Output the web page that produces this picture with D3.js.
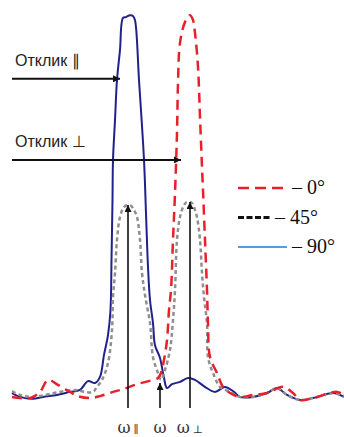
<!DOCTYPE html>
<html lang="ru">
<head>
<meta charset="UTF-8">
<title>Отклик</title>
<script src="https://d3js.org/d3.v7.min.js"></script>
<style>
  body { margin: 0; background: #fff; }
  svg { display: block; }
  .lbl { font-family: "Liberation Sans", Arial, sans-serif; font-size: 16px; fill: #222; }
  .omega { font-family: "DejaVu Serif", serif; font-size: 16px; fill: #333; }
  .leg { font-family: "Liberation Serif", "Times New Roman", serif; font-size: 20px; fill: #111; }
</style>
</head>
<body>
<svg width="344" height="437"></svg>
<script>
const width = 344, height = 437;

// отклик при 0° (красная штриховая)
const resp0 = [
  [0,0.8],[8,0.5],[18,0.5],[28,2.1],[36,5.2],[46,3.9],[58,2.1],[66,1.0],[78,0.5],[88,1.0],
  [101,2.1],[111,2.8],[125,4.1],[141,5.2],[146,5.7],[149,7.0],[152,10.4],[155,15.5],[157,23.3],
  [159,28.5],[161,41.5],[163,53.6],[165,69.2],[166,82.1],[168,92.5],[173,97.9],[178,99.7],
  [181,98.4],[183,95.1],[186,86.3],[188,73.3],[190,60.4],[191,54.4],[193,41.5],[195,28.5],
  [196,19.9],[198,11.1],[205,7.0],[211,3.4],[218,1.8],[228,0.8],[241,1.3],[255,1.8],[271,3.4],
  [281,1.8],[288,0],[301,0.5],[325,2.1],[332,1.3]
];

// отклик при 45° (серая пунктирная)
const resp45 = [
  [0,2.3],[8,1.3],[18,0.8],[33,1.3],[48,2.1],[63,2.6],[73,2.1],[81,2.1],[85,3.4],[90,5.2],
  [96,9.6],[100,18.1],[101,26.7],[103,32.9],[105,41.5],[108,47.4],[112,50.0],[116,50.5],
  [119,50.3],[122,49.2],[125,47.4],[128,41.5],[130,32.9],[133,27.2],[138,19.9],[141,11.1],
  [146,7.0],[149,5.2],[153,7.8],[158,13.0],[161,20.7],[163,28.5],[165,41.5],[168,47.4],
  [172,50.5],[175,51.3],[180,51.0],[183,49.2],[185,47.4],[188,41.5],[190,32.9],[192,26.7],
  [195,19.9],[196,11.1],[201,7.0],[208,3.4],[216,2.3],[228,0.8],[241,0.8],[255,1.8],
  [265,3.1],[275,1.3],[288,0],[301,0.5],[321,1.8],[332,1.0]
];

// отклик при 90° (синяя сплошная)
const resp90 = [
  [0,1.8],[8,0.8],[21,0.3],[31,0.8],[45,1.3],[58,2.1],[68,2.6],[76,4.9],[83,4.4],[88,6.0],
  [92,11.7],[96,16.8],[98.5,23.3],[99.5,36.3],[100.5,51.8],[101,62.2],[103,72.5],[105,82.9],
  [108,90.7],[111,99.0],[114,99.2],[118,99.7],[121,99.5],[123,98.4],[127,82.9],[132,62.2],
  [134,48.4],[136,34.5],[138,25.9],[141,19.9],[143,14.2],[148,10.9],[152,5.7],[155,3.1],
  [160,4.1],[168,4.7],[176,5.7],[183,5.2],[193,3.4],[203,2.1],[213,3.4],[222,2.1],[228,0.8],
  [241,0.8],[255,1.8],[265,3.1],[275,1.3],[288,0],[301,0.5],[321,1.8],[332,0.8]
];

// частоты и уровни отклика для стрелок
const omegaNames = ["ω", "ω", "ω"];
const omegaSubs = ["∥", "", "⊥"];
const omegaFreq = [116, 148, 178];
const omegaTop = [50.5, 4.4, 51.3];
const responseLabels = ["Отклик ∥", "Отклик ⊥"];
const responseLevel = [83.2, 62.2];
const responseEnd = [108, 169];
const legendLabels = ["– 0°", "– 45°", "– 90°"];

const x = d3.scaleLinear().domain([0, 332]).range([12, 344]);
const y = d3.scaleLinear().domain([0, 100]).range([400, 14]);

const svg = d3.select("svg");

const defs = svg.append("defs");
defs.append("marker")
  .attr("id", "head")
  .attr("viewBox", "0 0 10 10")
  .attr("refX", 10).attr("refY", 5)
  .attr("markerUnits", "userSpaceOnUse")
  .attr("markerWidth", 10).attr("markerHeight", 7)
  .attr("orient", "auto")
  .append("path").attr("d", "M0,0 L10,5 L0,10 z").attr("fill", "#111");

const line = d3.line()
  .x(d => x(d[0]))
  .y(d => y(d[1]))
  .curve(d3.curveCatmullRom.alpha(0.5));

svg.append("path").datum(resp90)
  .attr("d", line).attr("fill", "none")
  .attr("stroke", "#21218c").attr("stroke-width", 2);

svg.append("path").datum(resp45)
  .attr("d", line).attr("fill", "none")
  .attr("stroke", "#8f8f8f").attr("stroke-width", 2.5)
  .attr("stroke-dasharray", "4,3");

svg.append("path").datum(resp0)
  .attr("d", line).attr("fill", "none")
  .attr("stroke", "#e8202a").attr("stroke-width", 2.5)
  .attr("stroke-dasharray", "10,6");

// горизонтальные стрелки
responseLabels.forEach((t, i) => {
  svg.append("line")
    .attr("x1", x(0)).attr("x2", x(responseEnd[i]))
    .attr("y1", y(responseLevel[i])).attr("y2", y(responseLevel[i]))
    .attr("stroke", "#111").attr("stroke-width", 2)
    .attr("marker-end", "url(#head)");
  svg.append("text")
    .attr("class", "lbl")
    .attr("x", x(3)).attr("y", y(responseLevel[i]) - 13)
    .text(t);
});

// вертикальные стрелки
omegaFreq.forEach((f, i) => {
  svg.append("line")
    .attr("x1", x(f)).attr("x2", x(f))
    .attr("y1", y(-2.1)).attr("y2", y(omegaTop[i]))
    .attr("stroke", "#111").attr("stroke-width", 1.6)
    .attr("marker-end", "url(#head)");
  const t = svg.append("text")
    .attr("class", "omega")
    .attr("x", x(f)).attr("y", 433)
    .attr("text-anchor", "middle");
  t.append("tspan").text(omegaNames[i]);
  if (omegaSubs[i]) {
    t.append("tspan").attr("font-size", "11px").attr("dx", 3).text(omegaSubs[i]);
  }
});

// легенда
const leg = svg.append("g").attr("transform", "translate(238,188)");
const legStyles = [
  { stroke: "#e8202a", dash: "11,6", w: 2.5, len: 49 },
  { stroke: "#111", dash: "6,2.5", w: 3, len: 32 },
  { stroke: "#1c7bd6", dash: null, w: 1.5, len: 49 }
];
legendLabels.forEach((t, i) => {
  const s = legStyles[i];
  leg.append("line")
    .attr("x1", 0).attr("x2", s.len)
    .attr("y1", i * 29.5).attr("y2", i * 29.5)
    .attr("stroke", s.stroke).attr("stroke-width", s.w)
    .attr("stroke-dasharray", s.dash);
  leg.append("text")
    .attr("class", "leg")
    .attr("x", i === 1 ? 37 : 54).attr("y", i * 29.5 + 6)
    .text(t);
});
</script>
</body>
</html>
